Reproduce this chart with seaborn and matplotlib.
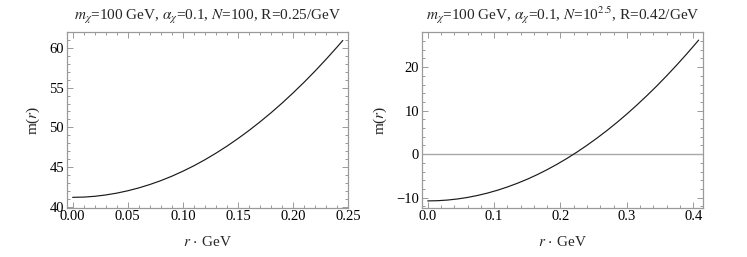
import numpy as np
import pandas as pd
import matplotlib
matplotlib.use("Agg")
import matplotlib.pyplot as plt
from matplotlib.ticker import MultipleLocator, FormatStrFormatter
import seaborn as sns

# ---- data ----
r_left = [0.00, 0.01, 0.02, 0.03, 0.04, 0.05, 0.06, 0.07, 0.08, 0.09, 0.10, 0.11, 0.12,
          0.13, 0.14, 0.15, 0.16, 0.17, 0.18, 0.19, 0.20, 0.21, 0.22, 0.23, 0.24, 0.245]
m_left = [41.16, 41.19, 41.29, 41.46, 41.69, 41.99, 42.35, 42.78, 43.27, 43.83, 44.46, 45.15, 45.91,
          46.74, 47.63, 48.59, 49.61, 50.70, 51.85, 53.07, 54.36, 55.71, 57.13, 58.62, 60.17, 60.97]

r_right = [0.000, 0.015, 0.030, 0.045, 0.060, 0.075, 0.090, 0.105, 0.120, 0.135, 0.150, 0.165,
           0.180, 0.195, 0.210, 0.225, 0.240, 0.255, 0.270, 0.285, 0.300, 0.315, 0.330, 0.345,
           0.360, 0.375, 0.390, 0.400, 0.408]
m_right = [-10.74, -10.69, -10.54, -10.29, -9.94, -9.49, -8.94, -8.29, -7.54, -6.69, -5.75, -4.70,
           -3.55, -2.30, -0.95, 0.50, 2.05, 3.70, 5.44, 7.29, 9.24, 11.29, 13.44, 15.68,
           18.03, 20.48, 23.03, 24.78, 26.21]

title_left = r"$m_\chi$=100 GeV, $\alpha_\chi$=0.1, $N$=100, R=0.25/GeV"
title_right = r"$m_\chi$=100 GeV, $\alpha_\chi$=0.1, $N$=10$^{2.5}$, R=0.42/GeV"
xlabel = r"$r\,\cdot\,$GeV"
ylabel = r"m($r$)"

sns.set_theme(style="ticks")
plt.rcParams["font.family"] = ["Liberation Serif", "DejaVu Serif"]
plt.rcParams["mathtext.fontset"] = "stix"

frame_col = "#9a9a9a"

fig = plt.figure(figsize=(7.47, 2.57), dpi=100)
axL = fig.add_axes([0.0893, 0.1918, 0.377, 0.6825])
axR = fig.add_axes([0.5645, 0.1918, 0.377, 0.6825])

dfL = pd.DataFrame({"r": r_left, "m": m_left})
dfR = pd.DataFrame({"r": r_right, "m": m_right})

sns.lineplot(data=dfL, x="r", y="m", ax=axL, color="#1a1a1a", linewidth=0.85, sort=False)
axR.axhline(0, color="#a8a8a8", linewidth=1.0, zorder=1)
sns.lineplot(data=dfR, x="r", y="m", ax=axR, color="#1a1a1a", linewidth=0.85, sort=False, zorder=2)

axL.set_xlim(-0.0054, 0.2500)
axL.set_ylim(39.85, 62.0)
axR.set_xlim(-0.009, 0.415)
axR.set_ylim(-12.3, 28.0)

axL.xaxis.set_major_locator(MultipleLocator(0.05))
axL.xaxis.set_minor_locator(MultipleLocator(0.01))
axL.yaxis.set_major_locator(MultipleLocator(5))
axL.yaxis.set_minor_locator(MultipleLocator(1))
axL.xaxis.set_major_formatter(FormatStrFormatter("%.2f"))
axR.xaxis.set_major_locator(MultipleLocator(0.1))
axR.xaxis.set_minor_locator(MultipleLocator(0.02))
axR.yaxis.set_major_locator(MultipleLocator(10))
axR.yaxis.set_minor_locator(MultipleLocator(2))
axR.xaxis.set_major_formatter(FormatStrFormatter("%.1f"))

for ax, t in ((axL, title_left), (axR, title_right)):
    for s in ax.spines.values():
        s.set_color(frame_col)
        s.set_linewidth(0.9)
    ax.tick_params(which="both", direction="in", top=True, right=True,
                   color=frame_col, width=0.7, labelsize=10.5, labelcolor="black", pad=2)
    ax.tick_params(which="major", length=4)
    ax.tick_params(which="minor", length=2)
    ax.set_title(t, fontsize=11, pad=9)
    ax.set_xlabel(xlabel, fontsize=11, labelpad=8)
    ax.set_ylabel(ylabel, fontsize=11, labelpad=5)

fig.savefig("out.png", dpi=100)
